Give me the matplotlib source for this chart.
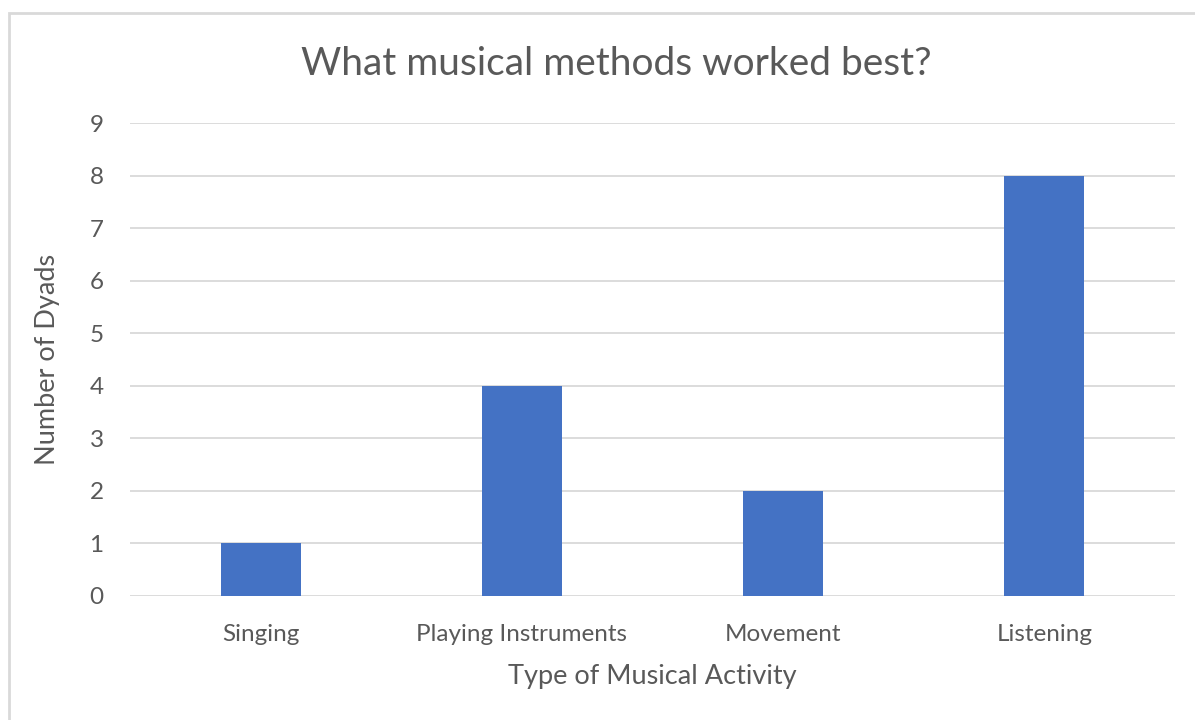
import matplotlib.pyplot as plt
from matplotlib.patches import Rectangle

categories = ["Singing", "Playing Instruments", "Movement", "Listening"]
dyads = [1, 4, 2, 8]
y_ticks = list(range(0, 10))

plt.rcParams['font.family'] = ['Lato', 'DejaVu Sans']
text_col = '#595959'

fig = plt.figure(figsize=(11.95, 7.2), dpi=100)
ax = fig.add_axes([130/1195, 1 - 596/720, 1045/1195, 473/720])

ax.bar(range(len(categories)), dyads, width=0.306, color='#4472C4', zorder=3)

ax.set_xlim(-0.5, len(categories) - 0.5)
ax.set_ylim(0, 9)
ax.set_yticks(y_ticks)
ax.set_xticks(range(len(categories)))
ax.set_xticklabels(categories)
ax.yaxis.grid(True, color='#D9D9D9', linewidth=1.3, zorder=0)
for s in ax.spines.values():
    s.set_visible(False)
ax.tick_params(length=0, labelsize=17.5, colors=text_col)
ax.tick_params(axis='x', pad=20)
ax.tick_params(axis='y', pad=19)

ax.set_xlabel("Type of Musical Activity", fontsize=19.5, color=text_col, labelpad=14)
ax.set_ylabel("Number of Dyads", fontsize=19.5, color=text_col, labelpad=21)

fig.text(616/1195, 1 - 64/720, "What musical methods worked best?", fontsize=28,
         color=text_col, ha='center', va='center')

# chart border
fig.patches.append(Rectangle((9/1195, -0.05), 1.1, 1 - 13/720 + 0.05,
                             transform=fig.transFigure, fill=False,
                             edgecolor='#D9D9D9', linewidth=2))

fig.savefig('out.png')
